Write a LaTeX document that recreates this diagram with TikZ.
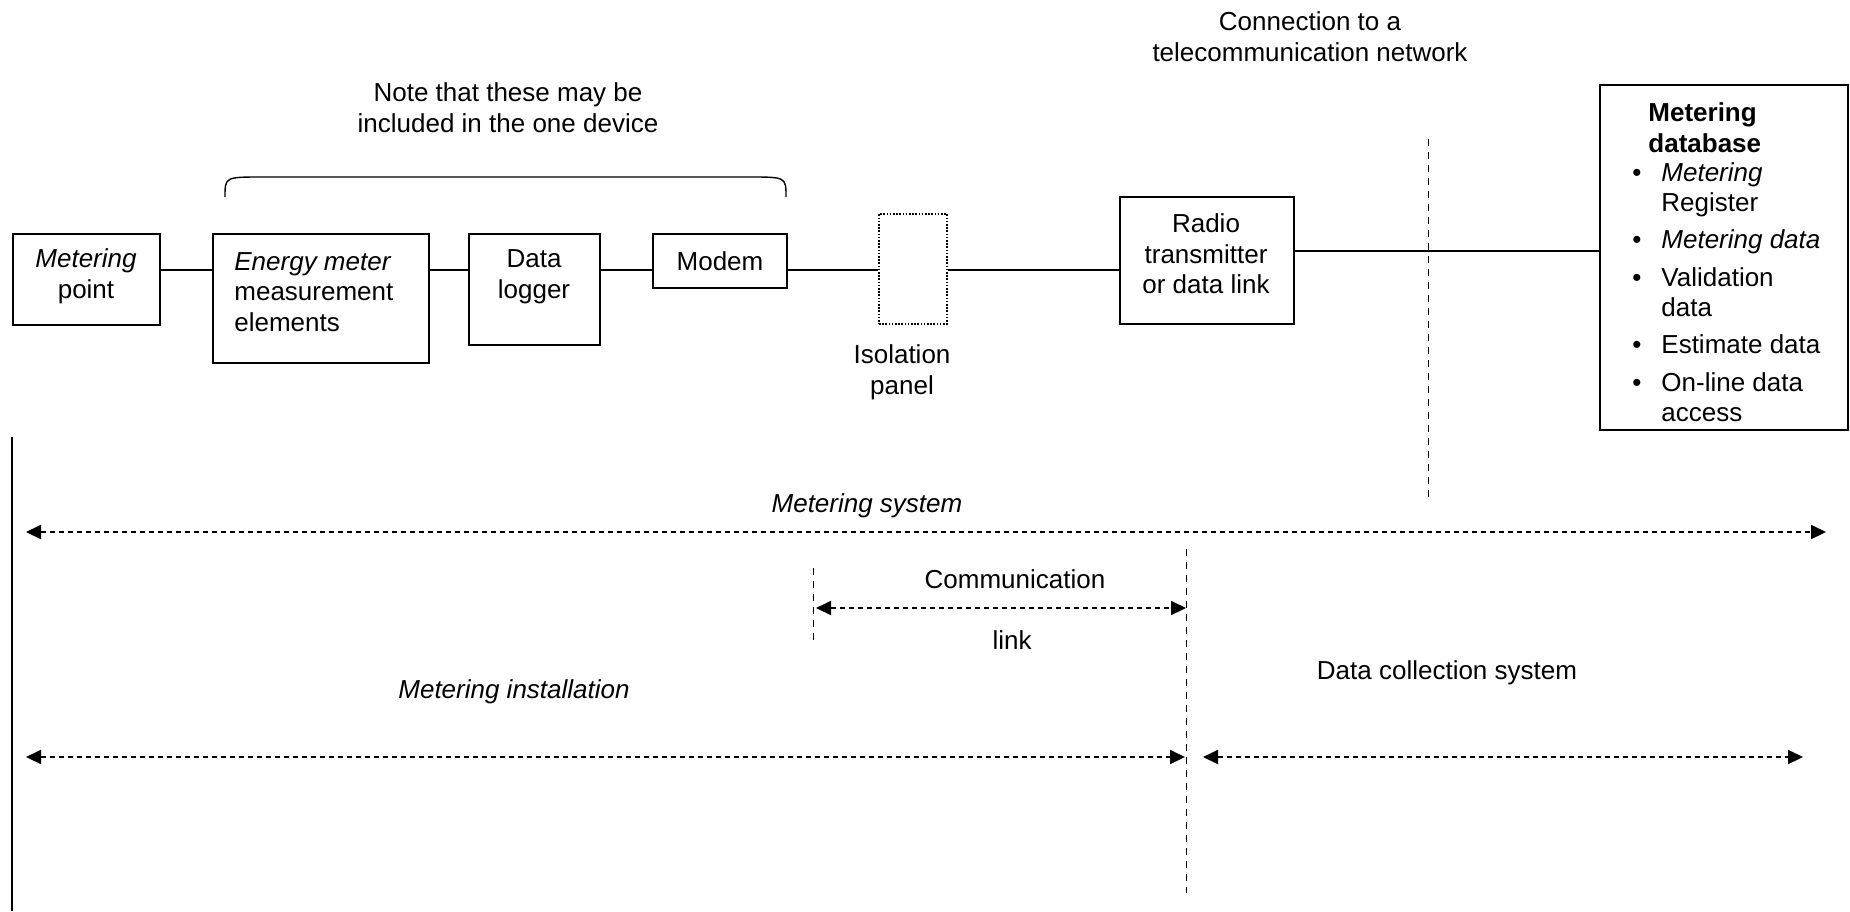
\documentclass[tikz,border=0pt]{standalone}
\usepackage{fontspec}
\setmainfont{Liberation Sans}
\usetikzlibrary{arrows.meta}

\tikzset{
  box/.style={draw, line width=1pt, inner sep=0pt},
  txt/.style={align=center, inner sep=0pt},
  wire/.style={line width=0.7pt},
  cutline/.style={line width=0.5pt, dash pattern=on 3.5pt off 3pt},
  spanarrow/.style={line width=1pt, dash pattern=on 2.5pt off 2pt, <->, >={Triangle[length=7.5pt,width=7pt]}}
}
\newcommand{\dbitem}[1]{\makebox[0pt][r]{\textbullet\hspace{10pt}}#1}

\begin{document}
\begin{tikzpicture}[x=0.5pt, y=-0.5pt, font=\fontsize{13}{15.3}\selectfont]
            \useasboundingbox (0,0) rectangle (1850,911);
            \node[box, minimum width=73.5pt, minimum height=45.5pt] (mpoint) at (86,279.5) {};
            \node[txt] (mpointtxt) at (86,276) {\textit{Metering}\\point};
            \node[box, minimum width=108pt, minimum height=64.5pt] (emeter) at (321,298.5) {};
            \node[txt, anchor=west, align=left] (emetertxt) at (234,292) {\textit{Energy meter}\\measurement\\elements};
            \node[box, minimum width=65.7pt, minimum height=55.5pt] (logger) at (534.3,289.5) {};
            \node[txt] (loggertxt) at (534,277) {Data\\logger};
            \node[box, minimum width=67pt, minimum height=27pt] (modem) at (720,261) {Modem};
            \node[box, line width=0.8pt, dash pattern=on 0.8pt off 0.8pt, minimum width=34pt, minimum height=55pt] (iso) at (913,269) {};
            \node[txt] (isotxt) at (902,372) {Isolation\\panel};
            \node[box, minimum width=87pt, minimum height=63.5pt] (radio) at (1207,260.5) {};
            \node[txt] (radiotxt) at (1206,254) {Radio\\transmitter\\or data link};
            \node[box, minimum width=124pt, minimum height=172.5pt] (db) at (1724,257.5) {};
            \node[txt, anchor=west, align=left] (dbhead) at (1648,127.5) {\textbf{Metering}\\\textbf{database}};
            \node[txt, anchor=west, align=left] (dbitems) at (1661,292) {\dbitem{\textit{Metering}}\\Register\\[3.3pt]\dbitem{\textit{Metering data}}\\[3.3pt]\dbitem{Validation}\\data\\[3.3pt]\dbitem{Estimate data}\\[3.3pt]\dbitem{On-line data}\\access};
            \coordinate (bus) at (0,270);
            \coordinate (link) at (0,251);
            \foreach \a/\b in {mpoint/emeter, emeter/logger, logger/modem, modem/iso, iso/radio}
                \draw[wire] (\a.east |- bus) -- (\b.west |- bus);
            \draw[wire] (radio.east |- link) -- (db.west |- link);
            \draw[wire] (225,197) .. controls (225,177) .. (262,177) -- (749,177) .. controls (786,177) .. (786,197);
            \node[txt] (note) at (508,107.5) {Note that these may be\\included in the one device};
            \node[txt] (conn) at (1310,36.5) {Connection to a\\telecommunication network};
            \draw[cutline] (1428,139) -- (1428,497);
            \draw[cutline] (1186,549) -- (1186,893);
            \draw[cutline] (813,568) -- (813,643);
            \draw[line width=1pt] (12,437) -- (12,911);
            \coordinate (sysL) at (26,532);
            \coordinate (sysR) at (1826,532);
            \coordinate (commL) at (816,608);
            \coordinate (commR) at (1186,608);
            \coordinate (instL) at (26,757);
            \coordinate (instR) at (1185,757);
            \coordinate (dcsL) at (1203,757);
            \coordinate (dcsR) at (1803,757);
            \foreach \a/\b in {sysL/sysR, commL/commR, instL/instR, dcsL/dcsR}
                \draw[spanarrow] (\a) -- (\b);
            \node[txt] (systxt) at (867,506) {\textit{Metering system}};
            \node[txt] (commtxt) at (1015,579) {Communication};
            \node[txt] (linktxt) at (1012,640) {link};
            \node[txt] (insttxt) at (514,692) {\textit{Metering installation}};
            \node[txt] (dcstxt) at (1447,673) {Data collection system};
        \end{tikzpicture}
\end{document}
